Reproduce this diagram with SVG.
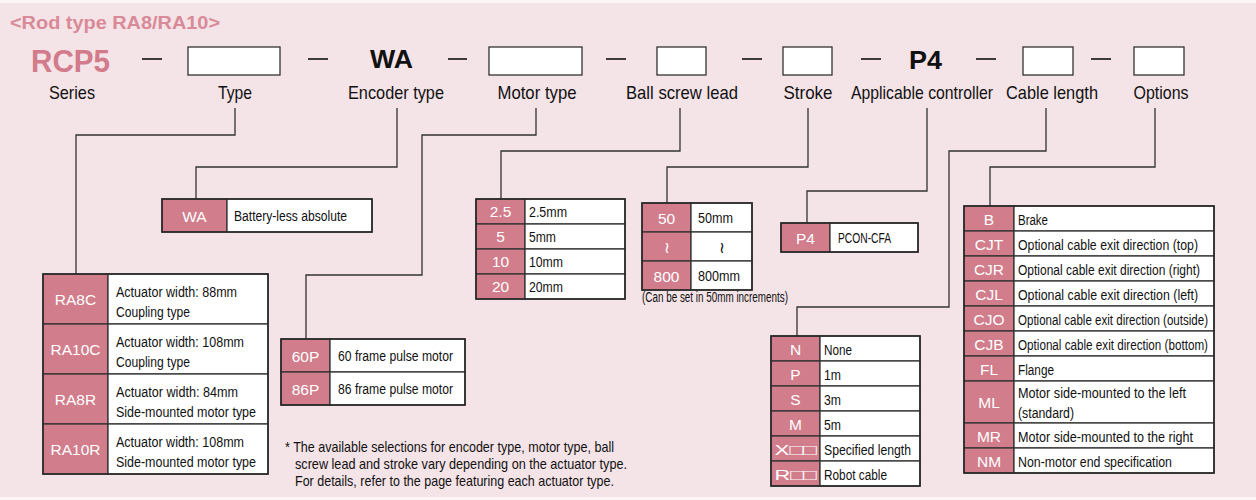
<svg xmlns="http://www.w3.org/2000/svg" width="1256" height="500" viewBox="0 0 1256 500">
<style>
.pk{fill:#d17d8b;stroke:#333;stroke-width:1.3}
.wt{fill:#fff;stroke:#333;stroke-width:1.3}
.ol{fill:none;stroke:#2a2a2a;stroke-width:1.6}
.pt{font-family:"Liberation Sans",Arial,sans-serif;font-size:15.5px;fill:#fff;text-anchor:middle}
.ct{font-family:"Liberation Sans Narrow","Liberation Sans",Arial,sans-serif;font-size:15.5px;fill:#111}
.lbl{font-family:"Liberation Sans Narrow","Liberation Sans",Arial,sans-serif;font-size:19px;fill:#111;text-anchor:middle}
.box{fill:#fff;stroke:#333;stroke-width:1.3}
.dash{stroke:#111;stroke-width:1.6}
.code{font-family:"Liberation Sans",Arial,sans-serif;font-weight:bold;fill:#111}
.conn path{fill:none;stroke:#333;stroke-width:1.3}
.note{font-family:"Liberation Sans Narrow","Liberation Sans",Arial,sans-serif;font-size:14.5px;fill:#111}
</style>
<rect x="0" y="0" width="1256" height="500" fill="#fdf6f7"/>
<rect x="0" y="3" width="1256" height="494" fill="#f4e3e7"/>
<text x="10" y="29" font-family="Liberation Sans, Arial, sans-serif" font-weight="bold" font-size="18.5" fill="#d98a98" textLength="210" lengthAdjust="spacingAndGlyphs">&lt;Rod type RA8/RA10&gt;</text>

<g id="header">
<text x="31" y="72" font-family="Liberation Sans, Arial, sans-serif" font-weight="bold" font-size="31" fill="#d27b8b" textLength="79" lengthAdjust="spacingAndGlyphs">RCP5</text>
<line class="dash" x1="142" y1="59" x2="162" y2="59"/>
<rect class="box" x="188" y="47" width="92" height="28"/>
<line class="dash" x1="308" y1="59" x2="328" y2="59"/>
<text class="code" x="370" y="68" font-size="25" textLength="43" lengthAdjust="spacingAndGlyphs">WA</text>
<line class="dash" x1="448" y1="59" x2="467" y2="59"/>
<rect class="box" x="489" y="47" width="93" height="28"/>
<line class="dash" x1="606" y1="59" x2="626" y2="59"/>
<rect class="box" x="657" y="47" width="49" height="28"/>
<line class="dash" x1="742" y1="59" x2="762" y2="59"/>
<rect class="box" x="783" y="47" width="49" height="28"/>
<line class="dash" x1="861" y1="59" x2="881" y2="59"/>
<text class="code" x="909" y="69" font-size="25" textLength="33" lengthAdjust="spacingAndGlyphs">P4</text>
<line class="dash" x1="976" y1="59" x2="996" y2="59"/>
<rect class="box" x="1023" y="47" width="50" height="28"/>
<line class="dash" x1="1091" y1="59" x2="1111" y2="59"/>
<rect class="box" x="1134" y="47" width="50" height="28"/>
<text class="lbl" x="72" y="99" textLength="46" lengthAdjust="spacingAndGlyphs">Series</text>
<text class="lbl" x="235" y="99" textLength="34" lengthAdjust="spacingAndGlyphs">Type</text>
<text class="lbl" x="396" y="99" textLength="96" lengthAdjust="spacingAndGlyphs">Encoder type</text>
<text class="lbl" x="537" y="99" textLength="79" lengthAdjust="spacingAndGlyphs">Motor type</text>
<text class="lbl" x="682" y="99" textLength="112" lengthAdjust="spacingAndGlyphs">Ball screw lead</text>
<text class="lbl" x="808" y="99" textLength="49" lengthAdjust="spacingAndGlyphs">Stroke</text>
<text class="lbl" x="922" y="99" textLength="142" lengthAdjust="spacingAndGlyphs">Applicable controller</text>
<text class="lbl" x="1052" y="99" textLength="92" lengthAdjust="spacingAndGlyphs">Cable length</text>
<text class="lbl" x="1161" y="99" textLength="55" lengthAdjust="spacingAndGlyphs">Options</text>
</g>

<g id="connectors" class="conn">
<path d="M235,108 V135 H76 V274"/>
<path d="M397,108 V167 H196 V199"/>
<path d="M536,108 V135 H422 V275 H306 V339"/>
<path d="M680,108 V151 H501 V199"/>
<path d="M808,108 V167 H667 V203"/>
<path d="M927,108 V191 H807 V223"/>
<path d="M1046,108 V151 H949 V307 H797 V336"/>
<path d="M1155,108 V167 H990 V206"/>
</g>

<g id="encoder">
<rect class="pk" x="162" y="199" width="65" height="33"/>
<rect class="wt" x="227" y="199" width="145" height="33"/>
<rect class="ol" x="162" y="199" width="210" height="33"/>
<text class="pt" x="194.5" y="221.5">WA</text>
<text class="ct" x="234" y="221" textLength="113" lengthAdjust="spacingAndGlyphs">Battery-less absolute</text>
</g>

<g id="type">
<rect class="pk" x="43" y="274" width="65" height="50"/><rect class="wt" x="108" y="274" width="160" height="50"/>
<rect class="pk" x="43" y="324" width="65" height="50"/><rect class="wt" x="108" y="324" width="160" height="50"/>
<rect class="pk" x="43" y="374" width="65" height="50"/><rect class="wt" x="108" y="374" width="160" height="50"/>
<rect class="pk" x="43" y="424" width="65" height="50"/><rect class="wt" x="108" y="424" width="160" height="50"/>
<rect class="ol" x="43" y="274" width="225" height="200"/>
<text class="pt" x="75.5" y="305">RA8C</text>
<text class="pt" x="75.5" y="355">RA10C</text>
<text class="pt" x="75.5" y="405">RA8R</text>
<text class="pt" x="75.5" y="455">RA10R</text>
<text class="ct" x="116" y="297" textLength="121" lengthAdjust="spacingAndGlyphs">Actuator width: 88mm</text>
<text class="ct" x="116" y="317" textLength="74" lengthAdjust="spacingAndGlyphs">Coupling type</text>
<text class="ct" x="116" y="347" textLength="128" lengthAdjust="spacingAndGlyphs">Actuator width: 108mm</text>
<text class="ct" x="116" y="367" textLength="74" lengthAdjust="spacingAndGlyphs">Coupling type</text>
<text class="ct" x="116" y="397" textLength="122" lengthAdjust="spacingAndGlyphs">Actuator width: 84mm</text>
<text class="ct" x="116" y="417" textLength="140" lengthAdjust="spacingAndGlyphs">Side-mounted motor type</text>
<text class="ct" x="116" y="447" textLength="128" lengthAdjust="spacingAndGlyphs">Actuator width: 108mm</text>
<text class="ct" x="116" y="467" textLength="140" lengthAdjust="spacingAndGlyphs">Side-mounted motor type</text>
</g>

<g id="motor">
<rect class="pk" x="281" y="339" width="49" height="33"/><rect class="wt" x="330" y="339" width="135" height="33"/>
<rect class="pk" x="281" y="372" width="49" height="33"/><rect class="wt" x="330" y="372" width="135" height="33"/>
<rect class="ol" x="281" y="339" width="184" height="66"/>
<text class="pt" x="305.5" y="361.5">60P</text>
<text class="pt" x="305.5" y="394.5">86P</text>
<text class="ct" x="338" y="361" textLength="115" lengthAdjust="spacingAndGlyphs">60 frame pulse motor</text>
<text class="ct" x="338" y="394" textLength="115" lengthAdjust="spacingAndGlyphs">86 frame pulse motor</text>
</g>

<g id="note">
<text class="note" x="285" y="452" textLength="329" lengthAdjust="spacingAndGlyphs">* The available selections for encoder type, motor type, ball</text>
<text class="note" x="295" y="469" textLength="332" lengthAdjust="spacingAndGlyphs">screw lead and stroke vary depending on the actuator type.</text>
<text class="note" x="295" y="486" textLength="319" lengthAdjust="spacingAndGlyphs">For details, refer to the page featuring each actuator type.</text>
</g>

<g id="lead">
<rect class="pk" x="476" y="199" width="49" height="25"/><rect class="wt" x="525" y="199" width="100" height="25"/>
<rect class="pk" x="476" y="224" width="49" height="25"/><rect class="wt" x="525" y="224" width="100" height="25"/>
<rect class="pk" x="476" y="249" width="49" height="25"/><rect class="wt" x="525" y="249" width="100" height="25"/>
<rect class="pk" x="476" y="274" width="49" height="25"/><rect class="wt" x="525" y="274" width="100" height="25"/>
<rect class="ol" x="476" y="199" width="149" height="100"/>
<text class="pt" x="500.5" y="217">2.5</text>
<text class="pt" x="500.5" y="242">5</text>
<text class="pt" x="500.5" y="267">10</text>
<text class="pt" x="500.5" y="292">20</text>
<text class="ct" x="529" y="217" textLength="38" lengthAdjust="spacingAndGlyphs">2.5mm</text>
<text class="ct" x="529" y="242" textLength="27" lengthAdjust="spacingAndGlyphs">5mm</text>
<text class="ct" x="529" y="267" textLength="34" lengthAdjust="spacingAndGlyphs">10mm</text>
<text class="ct" x="529" y="292" textLength="34" lengthAdjust="spacingAndGlyphs">20mm</text>
</g>

<g id="stroke">
<rect class="pk" x="642" y="203" width="49" height="29"/><rect class="wt" x="691" y="203" width="61" height="29"/>
<rect class="pk" x="642" y="232" width="49" height="29"/><rect class="wt" x="691" y="232" width="61" height="29"/>
<rect class="pk" x="642" y="261" width="49" height="29"/><rect class="wt" x="691" y="261" width="61" height="29"/>
<rect class="ol" x="642" y="203" width="110" height="87"/>
<text class="pt" x="666.5" y="223.5">50</text>
<text class="pt" x="666.5" y="253" font-family="DejaVu Sans, sans-serif" font-size="19">≀</text>
<text class="pt" x="666.5" y="281.5">800</text>
<text class="ct" x="698" y="223" textLength="35" lengthAdjust="spacingAndGlyphs">50mm</text>
<text class="ct" x="722" y="253" text-anchor="middle" font-family="DejaVu Sans, sans-serif" font-size="19">≀</text>
<text class="ct" x="698" y="281" textLength="42" lengthAdjust="spacingAndGlyphs">800mm</text>
<text class="ct" x="642" y="302" font-size="12.5" textLength="146" lengthAdjust="spacingAndGlyphs">(Can be set in 50mm increments)</text>
</g>

<g id="controller">
<rect class="pk" x="781" y="223" width="49" height="29"/><rect class="wt" x="830" y="223" width="88" height="29"/>
<rect class="ol" x="781" y="223" width="137" height="29"/>
<text class="pt" x="805.5" y="243.5">P4</text>
<text class="ct" x="838" y="243" textLength="53" lengthAdjust="spacingAndGlyphs">PCON-CFA</text>
</g>

<g id="cable">
<rect class="pk" x="771" y="336" width="49" height="25"/><rect class="wt" x="820" y="336" width="100" height="25"/>
<rect class="pk" x="771" y="361" width="49" height="25"/><rect class="wt" x="820" y="361" width="100" height="25"/>
<rect class="pk" x="771" y="386" width="49" height="25"/><rect class="wt" x="820" y="386" width="100" height="25"/>
<rect class="pk" x="771" y="411" width="49" height="25"/><rect class="wt" x="820" y="411" width="100" height="25"/>
<rect class="pk" x="771" y="436" width="49" height="25"/><rect class="wt" x="820" y="436" width="100" height="25"/>
<rect class="pk" x="771" y="461" width="49" height="25"/><rect class="wt" x="820" y="461" width="100" height="25"/>
<rect class="ol" x="771" y="336" width="149" height="150"/>
<text class="pt" x="795.5" y="354.5">N</text>
<text class="pt" x="795.5" y="379.5">P</text>
<text class="pt" x="795.5" y="404.5">S</text>
<text class="pt" x="795.5" y="429.5">M</text>
<text class="pt" x="795.5" y="454.5" font-size="15" textLength="42" lengthAdjust="spacingAndGlyphs">X□□</text>
<text class="pt" x="795.5" y="479.5" font-size="15" textLength="42" lengthAdjust="spacingAndGlyphs">R□□</text>
<text class="ct" x="824" y="354.5" textLength="28" lengthAdjust="spacingAndGlyphs">None</text>
<text class="ct" x="824" y="379.5" textLength="17" lengthAdjust="spacingAndGlyphs">1m</text>
<text class="ct" x="824" y="404.5" textLength="17" lengthAdjust="spacingAndGlyphs">3m</text>
<text class="ct" x="824" y="429.5" textLength="17" lengthAdjust="spacingAndGlyphs">5m</text>
<text class="ct" x="824" y="454.5" textLength="87" lengthAdjust="spacingAndGlyphs">Specified length</text>
<text class="ct" x="824" y="479.5" textLength="63" lengthAdjust="spacingAndGlyphs">Robot cable</text>
</g>

<g id="options">
<rect class="pk" x="964" y="206" width="50" height="25"/><rect class="wt" x="1014" y="206" width="200" height="25"/>
<rect class="pk" x="964" y="231" width="50" height="25"/><rect class="wt" x="1014" y="231" width="200" height="25"/>
<rect class="pk" x="964" y="256" width="50" height="25"/><rect class="wt" x="1014" y="256" width="200" height="25"/>
<rect class="pk" x="964" y="281" width="50" height="25"/><rect class="wt" x="1014" y="281" width="200" height="25"/>
<rect class="pk" x="964" y="306" width="50" height="25"/><rect class="wt" x="1014" y="306" width="200" height="25"/>
<rect class="pk" x="964" y="331" width="50" height="25"/><rect class="wt" x="1014" y="331" width="200" height="25"/>
<rect class="pk" x="964" y="356" width="50" height="25"/><rect class="wt" x="1014" y="356" width="200" height="25"/>
<rect class="pk" x="964" y="381" width="50" height="42"/><rect class="wt" x="1014" y="381" width="200" height="42"/>
<rect class="pk" x="964" y="423" width="50" height="25"/><rect class="wt" x="1014" y="423" width="200" height="25"/>
<rect class="pk" x="964" y="448" width="50" height="25"/><rect class="wt" x="1014" y="448" width="200" height="25"/>
<rect class="ol" x="964" y="206" width="250" height="267"/>
<text class="pt" x="989" y="224.5">B</text>
<text class="pt" x="989" y="249.5">CJT</text>
<text class="pt" x="989" y="274.5">CJR</text>
<text class="pt" x="989" y="299.5">CJL</text>
<text class="pt" x="989" y="324.5">CJO</text>
<text class="pt" x="989" y="349.5">CJB</text>
<text class="pt" x="989" y="374.5">FL</text>
<text class="pt" x="989" y="407.5">ML</text>
<text class="pt" x="989" y="441.5">MR</text>
<text class="pt" x="989" y="466.5">NM</text>
<text class="ct" x="1018" y="224.5" textLength="30" lengthAdjust="spacingAndGlyphs">Brake</text>
<text class="ct" x="1018" y="249.5" textLength="180" lengthAdjust="spacingAndGlyphs">Optional cable exit direction (top)</text>
<text class="ct" x="1018" y="274.5" textLength="182" lengthAdjust="spacingAndGlyphs">Optional cable exit direction (right)</text>
<text class="ct" x="1018" y="299.5" textLength="180" lengthAdjust="spacingAndGlyphs">Optional cable exit direction (left)</text>
<text class="ct" x="1018" y="324.5" textLength="190" lengthAdjust="spacingAndGlyphs">Optional cable exit direction (outside)</text>
<text class="ct" x="1018" y="349.5" textLength="190" lengthAdjust="spacingAndGlyphs">Optional cable exit direction (bottom)</text>
<text class="ct" x="1018" y="374.5" textLength="36" lengthAdjust="spacingAndGlyphs">Flange</text>
<text class="ct" x="1018" y="398" textLength="168" lengthAdjust="spacingAndGlyphs">Motor side-mounted to the left</text>
<text class="ct" x="1018" y="417.5" textLength="56" lengthAdjust="spacingAndGlyphs">(standard)</text>
<text class="ct" x="1018" y="441.5" textLength="175" lengthAdjust="spacingAndGlyphs">Motor side-mounted to the right</text>
<text class="ct" x="1018" y="466.5" textLength="154" lengthAdjust="spacingAndGlyphs">Non-motor end specification</text>
</g>
</svg>
